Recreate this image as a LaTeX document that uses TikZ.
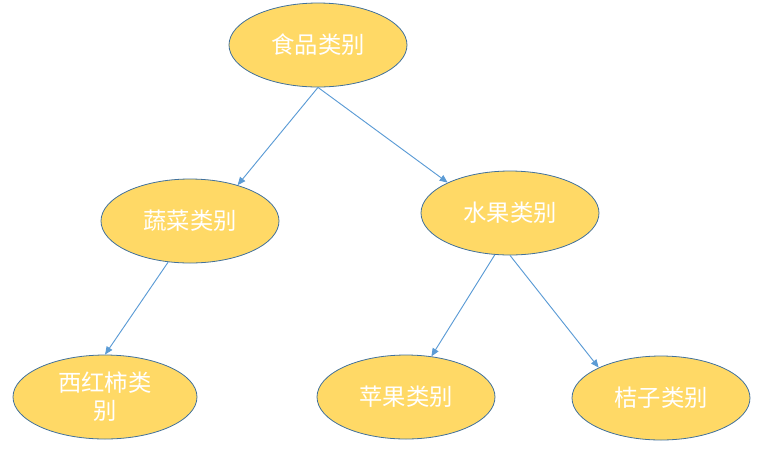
\documentclass[tikz,border=0pt]{standalone}
\usepackage{fontspec}
\setmainfont{Noto Sans CJK SC}
\usetikzlibrary{arrows.meta,shapes.geometric}
\definecolor{catfill}  {RGB}{255,217,102}
\definecolor{catline}  {RGB}{65 ,113,156}
\definecolor{linkblue} {RGB}{91 ,155,213}

\begin{document}
\begin{tikzpicture}[
  x=0.75pt, y=-0.75pt,
  every node/.style={font=\fontsize{17.5}{21}\selectfont, align=center},
  cat/.style={ellipse, draw=catline, fill=catfill, line width=0.6pt, text=white, inner sep=0pt, minimum width=133.5pt, minimum height=63pt},
  arrow/.style={-{Triangle[length=6pt,width=5pt]}, line width=0.7pt, linkblue}
]
  \useasboundingbox (0,0) rectangle (772,455);
  % Nodes
  \node (food)   [cat] at (318,45)  {食品类别};
  \node (veg)    [cat] at (190,221) {蔬菜类别};
  \node (fruit)  [cat] at (510,213) {水果类别};
  \node (tomato) [cat, minimum width=138pt] at (105,397) {西红柿类\\别};
  \node (apple)  [cat] at (406,397) {苹果类别};
  \node (orange) [cat] at (661,398) {桔子类别};

  % Paths
  \draw [arrow] (food.south) -- (veg.37);
  \draw [arrow] (food.south) -- (fruit.154);
  \draw [arrow] (veg.-118) -- (tomato.north);
  \draw [arrow] (fruit.-110) -- (apple.58);
  \draw [arrow] (fruit.south) -- (orange.154);
\end{tikzpicture}
\end{document}
